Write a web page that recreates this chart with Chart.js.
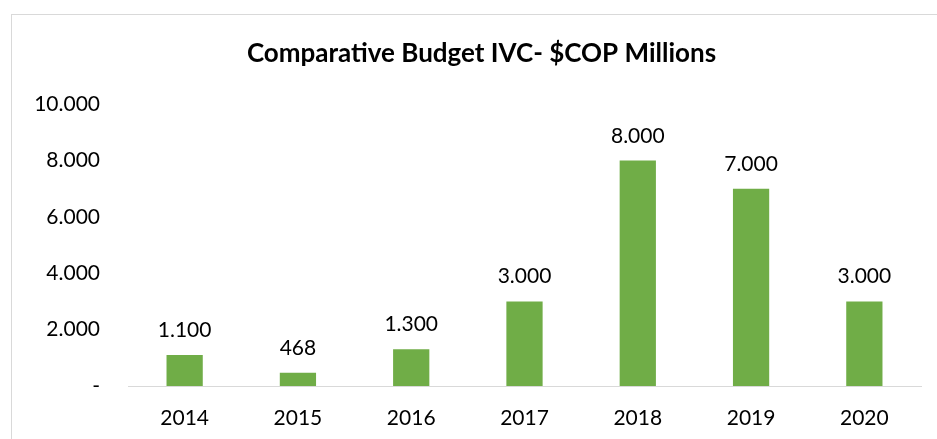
<!DOCTYPE html>
<html>
<head>
<meta charset="utf-8">
<script src="https://cdn.jsdelivr.net/npm/chart.js@4/dist/chart.umd.min.js"></script>
<style>
  html, body { margin: 0; padding: 0; background: #fff; }
  #wrap { width: 937px; height: 439px; position: relative; }
</style>
</head>
<body>
<div id="wrap"><canvas id="chart"></canvas></div>
<script>
const years = ['2014', '2015', '2016', '2017', '2018', '2019', '2020'];
const budget = [1100, 468, 1300, 3000, 8000, 7000, 3000];
const yTicks = [0, 2000, 4000, 6000, 8000, 10000];

const FONT = 'Lato, "Open Sans", sans-serif';

// thousands separator with a dot, zero shown as a dash
const fmt = v => v === 0 ? '-' : String(v).replace(/\B(?=(\d{3})+(?!\d))/g, '.');

const frame = {
  id: 'frame',
  beforeDraw(chart) {
    const ctx = chart.ctx;
    ctx.save();
    ctx.strokeStyle = '#d9d9d9';
    ctx.lineWidth = 1;
    ctx.strokeRect(11.5, 14.5, 1000, 1000);
    ctx.restore();
  },
  afterLayout(chart) {
    // centre the title over the framed area rather than the canvas
    if (chart.titleBlock) chart.titleBlock.left += 42;
  }
};

const barLabels = {
  id: 'barLabels',
  afterDatasetsDraw(chart) {
    const ctx = chart.ctx;
    const meta = chart.getDatasetMeta(0);
    ctx.save();
    ctx.font = '21px ' + FONT;
    ctx.fillStyle = '#000';
    ctx.textAlign = 'center';
    ctx.textBaseline = 'alphabetic';
    meta.data.forEach((bar, i) => {
      ctx.fillText(fmt(budget[i]), bar.x, bar.y - 18);
    });
    ctx.restore();
  }
};

const ctx = document.getElementById('chart').getContext('2d');
new Chart(ctx, {
  type: 'bar',
  data: {
    labels: years,
    datasets: [{
      data: budget,
      backgroundColor: '#70ad47',
      borderWidth: 0,
      barPercentage: 0.32,
      categoryPercentage: 1
    }]
  },
  options: {
    responsive: true,
    maintainAspectRatio: false,
    animation: false,
    layout: { padding: { left: 0, right: 16, top: 0, bottom: 0 } },
    plugins: {
      legend: { display: false },
      tooltip: { enabled: false },
      title: {
        display: true,
        text: 'Comparative Budget IVC- $COP Millions',
        color: '#000',
        font: { family: FONT, size: 26, weight: 'bold' },
        padding: { top: 38, bottom: 35 }
      }
    },
    scales: {
      x: {
        afterFit(scale) { scale.height = 53; },
        grid: { display: false, drawTicks: false },
        border: { display: true, color: '#d9d9d9', width: 1 },
        ticks: { color: '#000', font: { family: FONT, size: 21 }, padding: 20 }
      },
      y: {
        min: 0,
        max: 10000,
        afterBuildTicks(scale) {
          scale.ticks = yTicks.map(v => ({ value: v }));
        },
        afterFit(scale) { scale.width = 128; },
        grid: { display: false, drawTicks: false },
        border: { display: false },
        ticks: {
          color: '#000',
          font: { family: FONT, size: 21 },
          padding: 28,
          callback: v => fmt(v)
        }
      }
    }
  },
  plugins: [frame, barLabels]
});
</script>
</body>
</html>
